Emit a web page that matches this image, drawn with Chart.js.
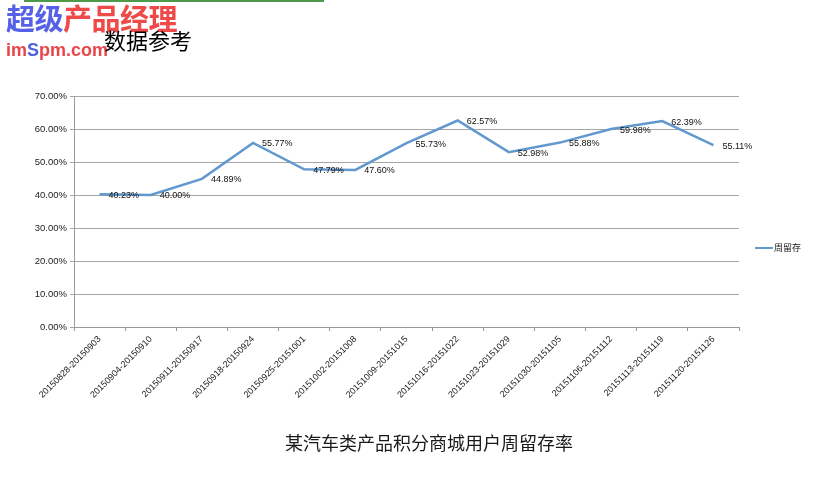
<!DOCTYPE html>
<html>
<head>
<meta charset="utf-8">
<script src="https://cdn.jsdelivr.net/npm/chart.js@4"></script>
<style>
  body { margin: 0; background: #fff; }
  #wrap { position: relative; width: 829px; height: 478px; overflow: hidden; }
  #chart { position: absolute; left: 0; top: 0; }
  .topline { position: absolute; left: 24px; top: 0; width: 300px; height: 2px; background: #4d9a4d; }
  .logo1 { position: absolute; left: 6px; top: 0px; font: bold 29px "Noto Sans CJK SC"; letter-spacing: -0.5px; line-height: 34px; }
  .refl { position: absolute; left: 6px; top: 30px; font: bold 29px "Noto Sans CJK SC"; letter-spacing: -0.5px; line-height: 34px;
          transform: scaleY(-1); opacity: 0.18; height: 14px; overflow: hidden; }
  .logo2 { position: absolute; left: 6px; top: 38px; font: bold 18px "Liberation Sans"; line-height: 24px; }
  .note { position: absolute; left: 104px; top: 24px; font: 22px "Noto Sans CJK SC"; line-height: 30px; color: #000; }
</style>
</head>
<body>
<div id="wrap">
  <canvas id="chart" width="829" height="478"></canvas>
  <div class="topline"></div>
  <div class="logo1"><span style="color:#5561e6">超级</span><span style="color:#ef4a4a">产品经理</span></div>
  <div class="logo2"><span style="color:#e8474a">im</span><span style="color:#4f62e0">S</span><span style="color:#e8474a">pm.com</span></div>
  <div class="note">数据参考</div>
</div>
<script>
  // weekly ranges and retention (%)
  const weeks = [
    '20150828-20150903', '20150904-20150910', '20150911-20150917', '20150918-20150924',
    '20150925-20151001', '20151002-20151008', '20151009-20151015', '20151016-20151022',
    '20151023-20151029', '20151030-20151105', '20151106-20151112', '20151113-20151119',
    '20151120-20151126'
  ];
  const retention = [40.23, 40.00, 44.89, 55.77, 47.79, 47.60, 55.73, 62.57, 52.98, 55.88, 59.98, 62.39, 55.11];
  const seriesName = '周留存';
  const chartTitle = '某汽车类产品积分商城用户周留存率';

  const lineColor = '#6199cf';

  // value labels next to each point
  const pointLabels = {
    id: 'pointLabels',
    afterDatasetsDraw(chart) {
      const ctx = chart.ctx;
      const meta = chart.getDatasetMeta(0);
      ctx.save();
      ctx.font = '9px "Liberation Sans"';
      ctx.fillStyle = '#111';
      ctx.textAlign = 'left';
      ctx.textBaseline = 'middle';
      meta.data.forEach((pt, i) => {
        ctx.fillText(retention[i].toFixed(2) + '%', pt.x + 9, pt.y + 1);
      });
      ctx.restore();
    }
  };

  // legend on the right and title below
  const extras = {
    id: 'extras',
    afterDraw(chart) {
      const ctx = chart.ctx;
      ctx.save();
      ctx.strokeStyle = lineColor;
      ctx.lineWidth = 2;
      ctx.beginPath();
      ctx.moveTo(755, 248);
      ctx.lineTo(773, 248);
      ctx.stroke();
      ctx.fillStyle = '#111';
      ctx.font = '9px "Noto Sans CJK SC"';
      ctx.textBaseline = 'middle';
      ctx.fillText(seriesName, 774, 248);

      ctx.font = '18px "Noto Sans CJK SC"';
      ctx.fillStyle = '#1a1a1a';
      ctx.textAlign = 'center';
      ctx.fillText(chartTitle, 429, 443);
      ctx.restore();
    }
  };

  new Chart(document.getElementById('chart'), {
    type: 'line',
    data: {
      labels: weeks,
      datasets: [{
        label: seriesName,
        data: retention,
        borderColor: lineColor,
        borderWidth: 2.5,
        pointRadius: 0,
        tension: 0,
        fill: false
      }]
    },
    options: {
      responsive: false,
      animation: false,
      devicePixelRatio: 1,
      layout: { padding: { top: 96, right: 90, left: 0, bottom: 0 } },
      plugins: {
        legend: { display: false },
        tooltip: { enabled: false }
      },
      scales: {
        x: {
          offset: true,
          grid: { offset: true, drawOnChartArea: false, drawTicks: true, tickLength: 4, color: '#9a9a9a' },
          border: { color: '#9a9a9a' },
          ticks: {
            minRotation: 45, maxRotation: 45, autoSkip: false,
            color: '#222', font: { family: 'Liberation Sans', size: 9 }, padding: 3
          },
          afterFit(s) { s.height = 151; }
        },
        y: {
          min: 0, max: 70,
          grid: { color: '#a6a6a6', tickLength: 4 },
          border: { color: '#9a9a9a' },
          ticks: {
            stepSize: 10,
            color: '#222', font: { family: 'Liberation Sans', size: 9.5 }, padding: 3,
            callback: v => v.toFixed(2) + '%'
          },
          afterFit(s) { s.width = 74; }
        }
      }
    },
    plugins: [pointLabels, extras]
  });
</script>
</body>
</html>
